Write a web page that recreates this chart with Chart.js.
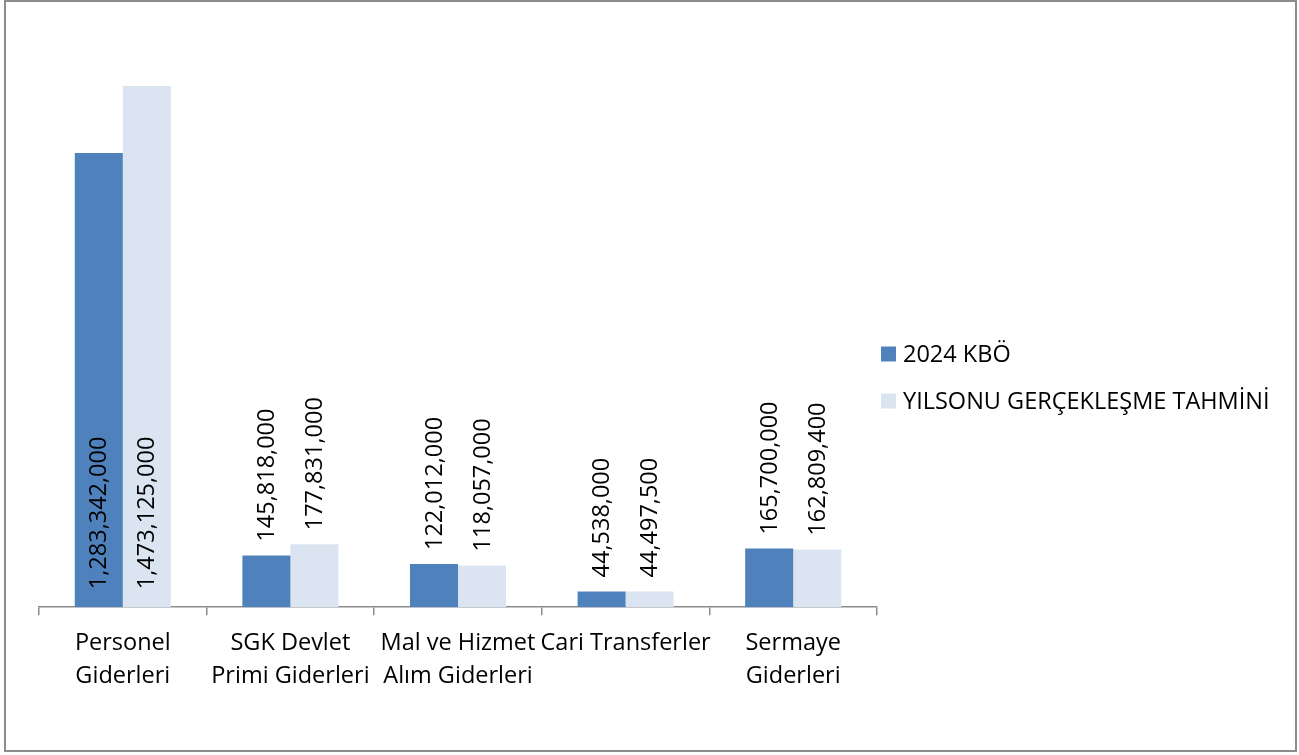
<!DOCTYPE html>
<html>
<head>
<meta charset="utf-8">
<script src="https://cdn.jsdelivr.net/npm/chart.js@4"></script>
<style>
  html, body { margin: 0; padding: 0; background: #fff; }
  #box {
    position: absolute; left: 4px; top: 0px;
    width: 1289px; height: 748px;
    border: 2px solid #8c8c8c;
    background: #fff;
  }
  canvas { display: block; }
</style>
</head>
<body>
<div id="box"><canvas id="c" width="1289" height="748"></canvas></div>
<script>
// 数据
const categories = [
  ['Personel', 'Giderleri'],
  ['SGK Devlet', 'Primi Giderleri'],
  ['Mal ve Hizmet', 'Alım Giderleri'],
  ['Cari Transferler'],
  ['Sermaye', 'Giderleri']
];
const seriesNames = ['2024 KBÖ', 'YILSONU GERÇEKLEŞME TAHMİNİ'];
const kbo2024 = [1283342000, 145818000, 122012000, 44538000, 165700000];
const tahmin = [1473125000, 177831000, 118057000, 44497500, 162809400];
const yMax = 1600000000;

const FONT = '"Open Sans", "Noto Sans", sans-serif';
const COLORS = ['#4F81BD', '#DBE5F1'];

// 柱子上的竖排数值标签
const RotatedLabels = {
  id: 'rotatedLabels',
  afterDatasetsDraw(chart) {
    const { ctx, chartArea } = chart;
    ctx.save();
    ctx.font = '23.5px ' + FONT;
    ctx.fillStyle = '#000';
    ctx.textAlign = 'left';
    ctx.textBaseline = 'middle';
    chart.data.datasets.forEach((ds, di) => {
      const meta = chart.getDatasetMeta(di);
      meta.data.forEach((bar, i) => {
        const text = ds.data[i].toLocaleString('en-US');
        const w = ctx.measureText(text).width;
        let y0 = bar.y - 14;
        // 放不下就贴在柱子底部里面
        if (y0 - w < chartArea.top) y0 = bar.base - 18;
        ctx.save();
        ctx.translate(bar.x + 1, y0);
        ctx.rotate(-Math.PI / 2);
        ctx.fillText(text, 0, 0);
        ctx.restore();
      });
    });
    ctx.restore();
  }
};

// 右侧图例
const SideLegend = {
  id: 'sideLegend',
  afterDraw(chart) {
    const { ctx } = chart;
    const x = 875, y0 = 352, step = 47, sz = 15;
    ctx.save();
    ctx.font = '23.5px ' + FONT;
    ctx.textBaseline = 'middle';
    ctx.textAlign = 'left';
    chart.data.datasets.forEach((ds, i) => {
      const y = y0 + i * step;
      ctx.fillStyle = ds.backgroundColor;
      ctx.fillRect(x, y - sz / 2, sz, sz);
      ctx.fillStyle = '#000';
      ctx.fillText(ds.label, x + 22, y + 1);
    });
    ctx.restore();
  }
};

new Chart(document.getElementById('c'), {
  type: 'bar',
  data: {
    labels: categories,
    datasets: [
      { label: seriesNames[0], data: kbo2024, backgroundColor: COLORS[0] },
      { label: seriesNames[1], data: tahmin, backgroundColor: COLORS[1] }
    ]
  },
  options: {
    responsive: false,
    animation: false,
    categoryPercentage: 0.573,
    barPercentage: 1,
    layout: { padding: { left: 33, right: 418, top: 39, bottom: 45 } },
    plugins: {
      legend: { display: false },
      tooltip: { enabled: false }
    },
    scales: {
      x: {
        grid: {
          display: true,
          offset: true,
          drawOnChartArea: false,
          drawTicks: true,
          tickLength: 8,
          color: '#8c8c8c',
          lineWidth: 1.5
        },
        border: { display: true, color: '#8c8c8c', width: 1.5 },
        ticks: {
          color: '#000',
          font: { family: FONT, size: 23.5, lineHeight: 1.4 },
          padding: 12,
          maxRotation: 0,
          autoSkip: false
        }
      },
      y: {
        display: false,
        min: 0,
        max: yMax
      }
    }
  },
  plugins: [RotatedLabels, SideLegend]
});
</script>
</body>
</html>
